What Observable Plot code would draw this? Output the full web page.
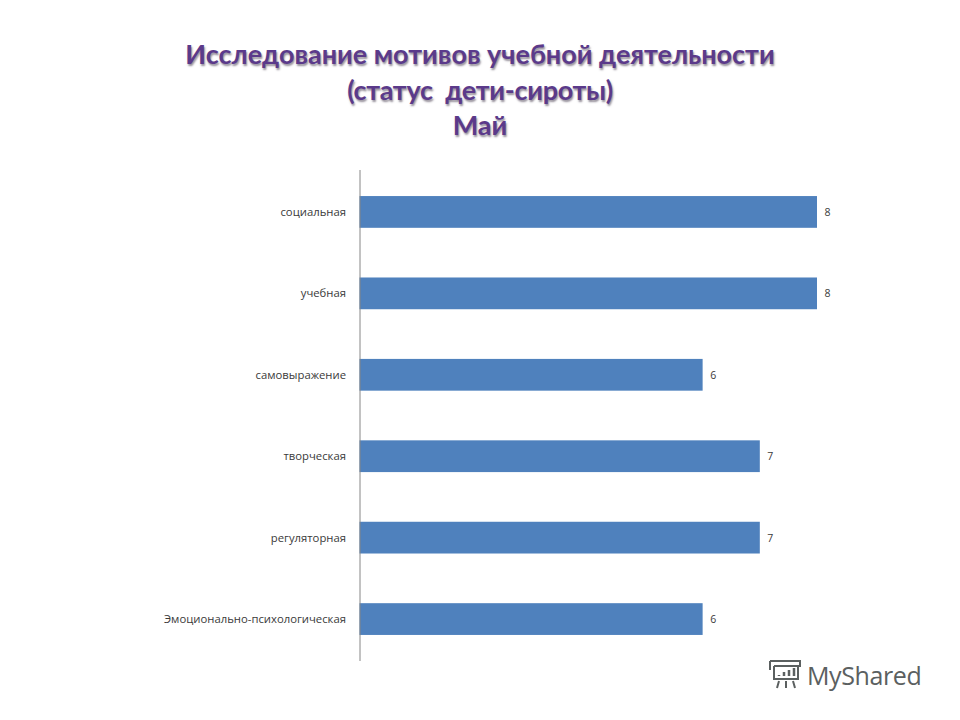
<!DOCTYPE html>
<html>
<head>
<meta charset="utf-8">
<script src="https://cdn.jsdelivr.net/npm/d3@7"></script>
<script src="https://cdn.jsdelivr.net/npm/@observablehq/plot@0.6"></script>
<style>
html,body{margin:0;padding:0;background:#fff;width:960px;height:720px;overflow:hidden}
#title{box-sizing:border-box;height:170px;padding-top:36px;margin:0;text-align:center;font:bold 27px/35.5px Lato,sans-serif;color:#5b3a8a;text-shadow:1px 2px 2px rgba(60,50,70,.55);font-weight:700}
#title .l2{letter-spacing:-.3px}
#chart{height:491px}
#chart svg{display:block}
#brand{position:absolute;left:767px;top:657px;display:flex;align-items:center;gap:4px;font:25px/36px "Open Sans",sans-serif;color:#5b6060;letter-spacing:-.4px}
</style>
</head>
<body>
<div id="title"><div>Исследование мотивов учебной деятельности</div><div class="l2">(статус&nbsp; дети-сироты)</div><div>Май</div></div>
<div id="chart"></div>
<div id="brand"><svg width="36" height="36" viewBox="0 0 36 36" fill="none" stroke="#5b6060" stroke-width="2"><path d="M3 4h30v5H7M3 4v9M7 9v13h24V9"/><path d="M12 24l-2 7M19 24v7M26 24l2 7"/><path d="M12 19v-1M17 19v-4M22 19v-6M27 19v-8" stroke-width="2.5"/></svg><span>MyShared</span></div>
<script>
const categories = ["социальная","учебная","самовыражение","творческая","регуляторная","Эмоционально-психологическая"];
const values = [8,8,6,7,7,6];
const table = categories.map((category,i)=>({category,value:values[i]}));
const plot = Plot.plot({
  width:960,height:491,
  marginLeft:359.5,marginRight:143,marginTop:0,marginBottom:0,
  style:{background:"transparent",fontFamily:"'Open Sans',sans-serif",fontSize:"11.3px",color:"#3a3a3a"},
  x:{domain:[0,8],axis:null},
  y:{domain:categories,paddingInner:0.61,paddingOuter:0.32,round:false,label:null,tickSize:0,tickPadding:14},
  marks:[
    Plot.barX(table,{y:"category",x:"value",fill:"#4f81bd"}),
    Plot.ruleX([0],{stroke:"#868686",strokeWidth:1}),
    Plot.text(table,{y:"category",x:"value",text:"value",textAnchor:"start",dx:7,fill:"#3a3a3a",fontSize:10.5})
  ]
});
document.getElementById("chart").appendChild(plot);
</script>
</body>
</html>
